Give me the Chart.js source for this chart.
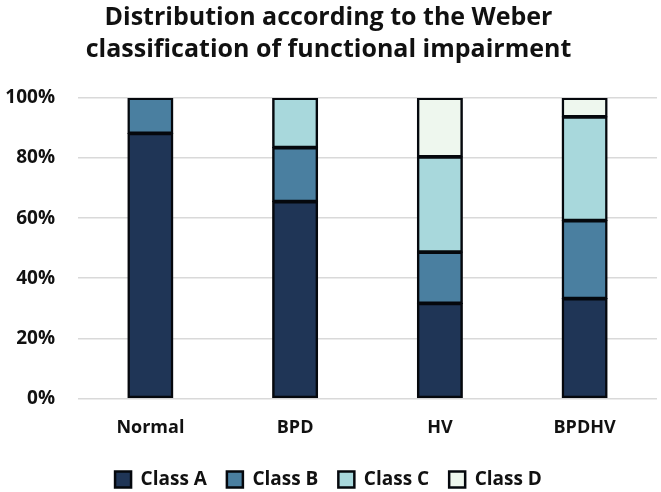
<!DOCTYPE html>
<html>
<head>
<meta charset="utf-8">
<script src="https://cdn.jsdelivr.net/npm/chart.js@4/dist/chart.umd.min.js"></script>
<style>
  html, body { margin: 0; padding: 0; background: #fff; }
  #wrap { width: 661px; height: 492px; }
</style>
</head>
<body>
<div id="wrap"><canvas id="chart" width="661" height="492"></canvas></div>
<script>
const groups = ["Normal", "BPD", "HV", "BPDHV"];
const classA = [88.2, 65.5, 31.6, 33.2];
const classB = [11.8, 18.0, 17.1, 26.0];
const classC = [0, 16.5, 31.7, 34.5];
const classD = [0, 0, 19.6, 6.3];
const yTicks = [0, 20, 40, 60, 80, 100];

const font = "'Open Sans', 'DejaVu Sans', sans-serif";

function makeSet(label, data, color) {
    return {
        label,
        data,
        backgroundColor: color,
        borderColor: "#05080d",
        borderWidth: 2.5,
        borderSkipped: false,
        inflateAmount: 0.6,
        barPercentage: 0.31,
        categoryPercentage: 1.0
    };
}

new Chart(document.getElementById("chart"), {
    type: "bar",
    data: {
        labels: groups,
        datasets: [
            makeSet("Class A", classA, "#1f3556"),
            makeSet("Class B", classB, "#4a7fa0"),
            makeSet("Class C", classC, "#a8d8dc"),
            makeSet("Class D", classD, "#eef7ee")
        ]
    },
    options: {
        responsive: false,
        animation: false,
        layout: { padding: { left: 0, right: 4, top: 0, bottom: -7 } },
        plugins: {
            title: {
                display: true,
                text: ["Distribution according to the Weber", "classification of functional impairment"],
                color: "#111",
                font: { family: font, size: 25, weight: "bold", lineHeight: 1.28 },
                padding: { top: 2, bottom: 32 }
            },
            legend: {
                position: "bottom",
                labels: {
                    color: "#111",
                    font: { family: font, size: 19, weight: "bold" },
                    boxWidth: 16,
                    boxHeight: 16,
                    padding: 20
                }
            },
            tooltip: { enabled: false }
        },
        scales: {
            x: {
                stacked: true,
                grid: { display: false },
                border: { display: false },
                ticks: { color: "#111", font: { family: font, size: 18, weight: "bold" }, padding: 11 }
            },
            y: {
                stacked: true,
                min: 0,
                max: 100,
                afterBuildTicks: axis => { axis.ticks = yTicks.map(v => ({ value: v })); },
                afterFit: axis => { axis.width = 78; },
                grid: { color: "#d9d9d9", lineWidth: 1.5, drawTicks: false },
                border: { display: false },
                ticks: {
                    color: "#111",
                    font: { family: font, size: 19, weight: "bold" },
                    padding: 23,
                    callback: v => v + "%"
                }
            }
        }
    }
});
</script>
</body>
</html>
